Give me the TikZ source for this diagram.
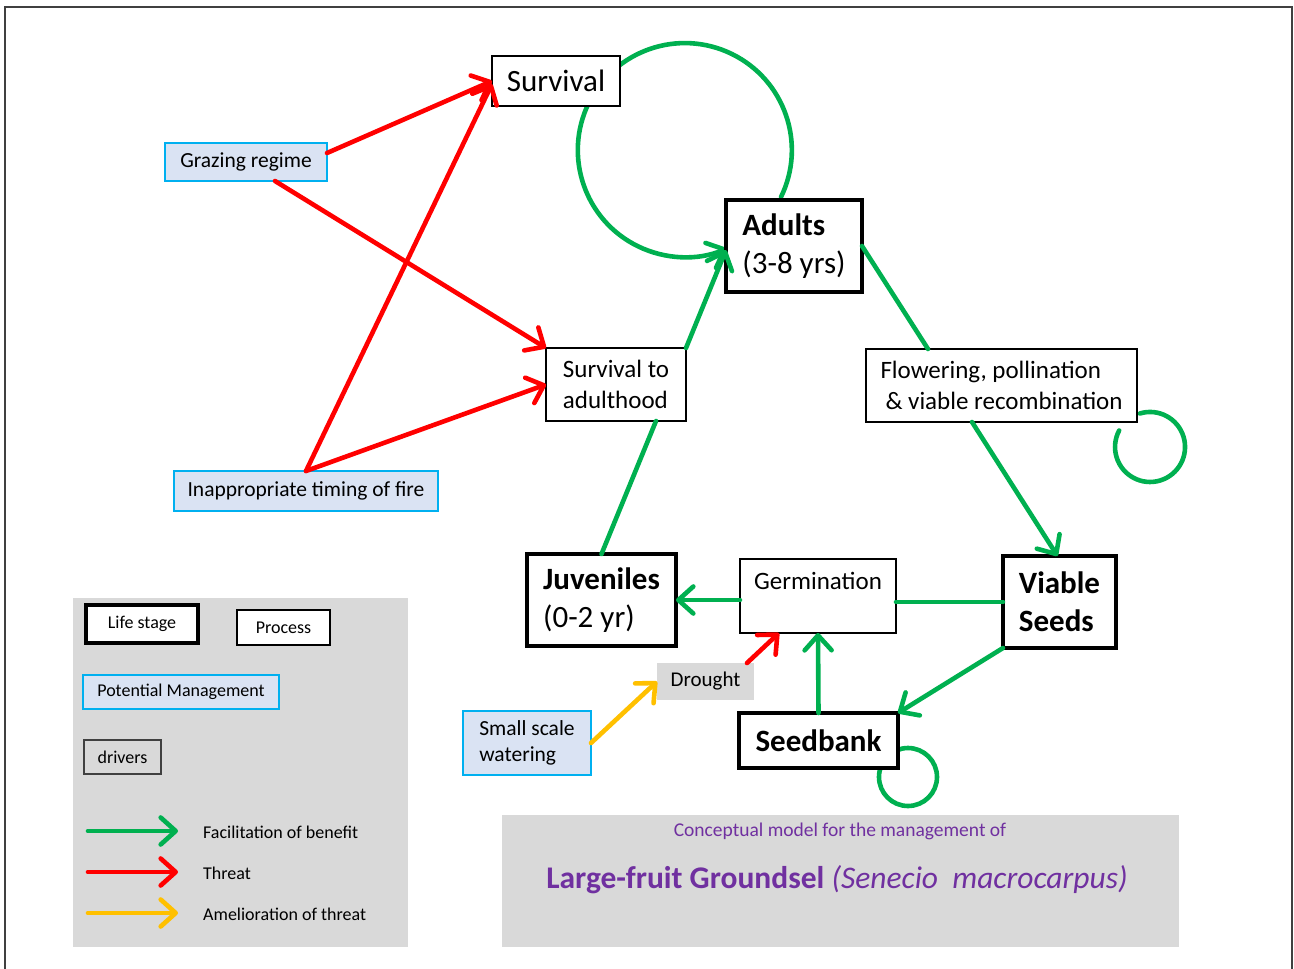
\documentclass[tikz,border=0pt]{standalone}
\usepackage{fontspec}
\setmainfont{Carlito}
\usetikzlibrary{arrows.meta,calc}

\definecolor{benefit}{HTML}{00B050}
\definecolor{threat}{HTML}{FF0000}
\definecolor{ameliorate}{HTML}{FFC000}
\definecolor{mgmtfill}{HTML}{DAE3F3}
\definecolor{mgmtline}{HTML}{00B0F0}
\definecolor{panel}{HTML}{D9D9D9}
\definecolor{titlepurple}{HTML}{7030A0}
\definecolor{framegray}{HTML}{404040}

\tikzset{
  box/.style={inner sep=0pt, outer sep=0pt, align=left},
  lifestage/.style={box, draw=black, line width=4.5pt, fill=white,
    font=\fontsize{31}{38}\selectfont},
  process/.style={box, draw=black, line width=1.3pt, fill=white,
    font=\fontsize{25}{30.5}\selectfont},
  mgmt/.style={box, draw=mgmtline, line width=1.3pt, fill=mgmtfill,
    font=\fontsize{21.5}{26}\selectfont},
  driver/.style={box, fill=panel, font=\fontsize{21}{26}\selectfont},
  keyfont/.style={font=\fontsize{18}{22}\selectfont},
  link/.style={line width=4.6pt, line cap=round},
  head/.style={-{Straight Barb[length=15pt,width=27pt,line join=round,line cap=round]}},
  good/.style={link, benefit},
  bad/.style={link, threat},
  relief/.style={link, ameliorate},
}

\begin{document}
\begin{tikzpicture}[x=1pt,y=-1pt]
\useasboundingbox (0,0) rectangle (1294,969);

% page frame, open at the bottom
\draw[framegray, line width=1.5pt] (5,969) -- (5,7) -- (1292,7) -- (1292,969);

% grey panels for the key and the title
\fill[panel] (73,598) rectangle (408,947);
\fill[panel] (502,815) rectangle (1179,947);

% self-loops (drawn first so the boxes sit on top)
\draw[good, head] (781,197) arc[start angle=-26, end angle=293, radius=107pt];
\draw[good] (1139.8,413.5) arc[start angle=107, end angle=-208, radius=35pt];
\draw[good] (908,777) circle[radius=29pt];

% life stages
\node[lifestage] (adults) at (794,246) [minimum width=136pt, minimum height=92pt]
  {\textbf{Adults}\\(3-8 yrs)};
\node[lifestage] (juv) at (601.5,600) [minimum width=149pt, minimum height=92pt]
  {\textbf{Juveniles}\\(0-2 yr)};
\node[lifestage, font=\fontsize{31}{38}\selectfont\bfseries] (viable) at (1059.5,602)
  [minimum width=113pt, minimum height=92pt] {Viable\\Seeds};
\node[lifestage] (seed) at (818.5,740.5) [minimum width=159pt, minimum height=55pt]
  {\textbf{Seedbank}};

% processes
\node[process, font=\fontsize{31}{38}\selectfont] (surv) at (556,81)
  [minimum width=128pt, minimum height=50pt] {Survival};
\node[process] (sta) at (616,384.5) [minimum width=140pt, minimum height=73pt]
  {Survival to\\adulthood};
\node[process] (flow) at (1001.5,385.5) [minimum width=271pt, minimum height=73pt]
  {Flowering, pollination\\\hspace*{5pt}\& viable recombination};
\node[process, align=center] (germ) at (818,596) [minimum width=156pt, minimum height=74pt]
  {Germination\\\mbox{}};

% management options and drivers
\node[mgmt] (graze) at (246,162) [minimum width=162pt, minimum height=38pt] {Grazing regime};
\node[mgmt] (fire) at (306,491) [minimum width=264pt, minimum height=40pt]
  {Inappropriate timing of fire};
\node[mgmt] (water) at (527,743) [minimum width=128pt, minimum height=64pt]
  {Small scale\\watering};
\node[driver] (drought) at (705.5,681.5) [minimum width=97pt, minimum height=37pt] {Drought};

% threats
\draw[bad, head] ([yshift=9pt]graze.east) -- (surv.west);
\draw[bad, head] ([xshift=29pt]graze.south) -- (sta.north west);
\draw[bad, head] (fire.north) -- ([yshift=-3pt]surv.west);
\draw[bad, head] (fire.north) -- (sta.west);
\draw[bad, head] ([xshift=-7pt]drought.north east) -- ([xshift=-39pt]germ.south);

% amelioration
\draw[relief, head] (water.east) -- (drought.west);

% benefits along the life cycle
\draw[good, head] (sta.north east) -- ([yshift=-4pt]adults.west);
\draw[good] (juv.north) -- ([xshift=40pt]sta.south);
\draw[good] (adults.east) -- ([xshift=-73.5pt]flow.north);
\draw[good, head] ([xshift=-29.5pt]flow.south) -- ([xshift=-2pt]viable.north);
\draw[good] (viable.west) -- (germ.east |- viable.west);
\draw[good, head] (germ.west |- juv.east) -- (juv.east);
\draw[good, head] (viable.south west) -- (seed.north east);
\draw[good, head] (seed.north) -- (germ.south);

% key
\node[lifestage, keyfont, line width=4.5pt] (keylife) at (142,624)
  [minimum width=112pt, minimum height=38pt] {Life stage};
\node[process, keyfont] (keyproc) at (283.5,627.5)
  [minimum width=93pt, minimum height=35pt] {Process};
\node[mgmt, keyfont] (keymgmt) at (181,692)
  [minimum width=196pt, minimum height=34pt] {Potential Management};
\node[box, keyfont, draw=framegray, line width=1.3pt, fill=panel] (keydrv) at (122.5,757)
  [minimum width=77pt, minimum height=34pt] {drivers};

\coordinate (kg0) at (88,831);  \coordinate (kg1) at (178,831);
\coordinate (kr0) at (88,872);  \coordinate (kr1) at (178,872);
\coordinate (ky0) at (88,913);  \coordinate (ky1) at (178,913);
\draw[good, head] (kg0) -- (kg1);
\draw[bad, head] (kr0) -- (kr1);
\draw[relief, head] (ky0) -- (ky1);
\node[anchor=west, inner sep=0pt, font=\fontsize{18}{21}\selectfont] (kgl) at (203,832)
  {Facilitation of benefit};
\node[anchor=west, inner sep=0pt, font=\fontsize{18}{21}\selectfont] (krl) at (203,873)
  {Threat};
\node[anchor=west, inner sep=0pt, font=\fontsize{18}{21}\selectfont] (kyl) at (203,914)
  {Amelioration of threat};

% title
\node[titlepurple, inner sep=0pt, font=\fontsize{19.5}{23}\selectfont] (title1) at (840,831)
  {Conceptual model for the management of};
\node[titlepurple, inner sep=0pt, font=\fontsize{31.5}{38}\selectfont] (title2) at (837,880)
  {\textbf{Large-fruit Groundsel} \textit{(Senecio\ \ macrocarpus)}};
\end{tikzpicture}
\end{document}
